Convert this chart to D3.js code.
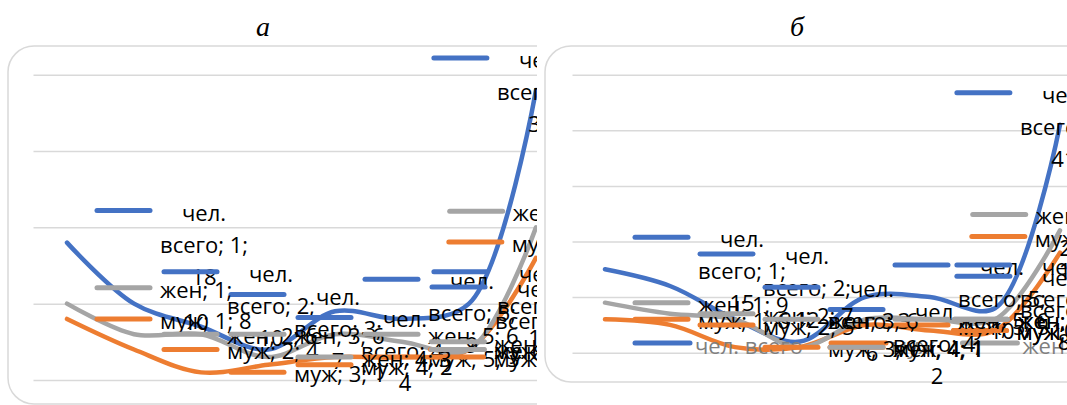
<!DOCTYPE html>
<html>
<head>
<meta charset="utf-8">
<script src="https://cdn.jsdelivr.net/npm/d3@7"></script>
<style>
  body { margin: 0; background: #fff; }
  svg { display: block; }
</style>
</head>
<body>
<div id="chart"></div>
<script>
// categories and series
var categories = ["1", "2", "3", "4", "5", "6", "7", "8"];
var seriesNames = ["чел. всего", "муж", "жен"];
var colors = ["#4472C4", "#ED7D31", "#A5A5A5"];

// panel а
var totalA = [18, 10, 7, 4, 9, 8, 10, 38];
var menA   = [8, 4, 1, 2, 3, 3, 4, 16];
var womenA = [10, 6, 6, 3, 6, 5, 4, 20];
var ticksA = [0, 10, 20, 30, 40];

// panel б
var totalB = [15, 12, 6, 2, 10, 10, 8, 41];
var menB   = [6, 5, 1, 1, 5, 4, 4, 18];
var womenB = [9, 7, 6, 1, 6, 6, 6, 22];
var ticksB = [0, 10, 20, 30, 40, 50];

var width = 1067, height = 405;
var labelFont = "'Open Sans', 'Noto Sans', sans-serif";
var labelSize = 22, lineH = 32, wrapW = 103;

var svg = d3.select("#chart")
    .append("svg")
    .attr("width", width)
    .attr("height", height);

// hidden text used to measure label widths
var meas = svg.append("text")
    .style("font-family", labelFont)
    .style("font-size", labelSize + "px")
    .attr("x", 10).attr("y", 10)
    .style("visibility", "hidden");
function measure(s) {
    meas.text(s);
    return meas.node().getComputedTextLength();
}

// titles
svg.append("text").attr("x", 263).attr("y", 36).text("а")
    .attr("text-anchor", "middle")
    .style("font-family", "'Liberation Serif', 'Times New Roman', serif")
    .style("font-style", "italic").style("font-size", "28px");
svg.append("text").attr("x", 797).attr("y", 36).text("б")
    .attr("text-anchor", "middle")
    .style("font-family", "'Liberation Serif', 'Times New Roman', serif")
    .style("font-style", "italic").style("font-size", "28px");

var panels = [
    {id: "a", series: [totalA, menA, womenA], ticks: ticksA,
     box: {x: 8, y: 46, h: 358}, clip: [0, 537],
     plot: {left: 33.5, right: 569.5, top: 74.7, bottom: 380}, chartRight: 585, legend: false},
    {id: "b", series: [totalB, menB, womenB], ticks: ticksB,
     box: {x: 545, y: 46, h: 336}, clip: [541, 1067],
     plot: {left: 572.5, right: 1092.5, top: 74.7, bottom: 352.7}, chartRight: 1108, legend: true}
];

panels.forEach(drawPanel);
meas.remove();

function drawPanel(p) {
    svg.append("clipPath").attr("id", "clip-" + p.id)
        .append("rect")
        .attr("x", p.clip[0]).attr("y", 0)
        .attr("width", p.clip[1] - p.clip[0]).attr("height", height);

    var g = svg.append("g").attr("clip-path", "url(#clip-" + p.id + ")");

    // chart area border
    g.append("rect")
        .attr("x", p.box.x).attr("y", p.box.y)
        .attr("width", 800).attr("height", p.box.h)
        .attr("rx", 26).attr("ry", 26)
        .style("fill", "#fff")
        .style("stroke", "#d9d9d9")
        .style("stroke-width", 1.5);

    var x = d3.scaleBand()
        .domain(categories)
        .range([p.plot.left, p.plot.right]);
    var y = d3.scaleLinear()
        .domain([0, d3.max(p.ticks)])
        .range([p.plot.bottom, p.plot.top]);
    var px = function(i) { return x(categories[i]) + x.bandwidth() / 2; };

    // gridlines
    var grid = g.append("g")
        .attr("transform", "translate(" + p.plot.left + ",0)")
        .call(d3.axisLeft(y)
            .tickValues(p.ticks)
            .tickSize(-(p.plot.right - p.plot.left))
            .tickFormat(""));
    grid.select(".domain").remove();
    grid.selectAll("line").style("stroke", "#d9d9d9").style("stroke-width", 1.5);

    // lines
    var line = d3.line()
        .x(function(d, i) { return px(i); })
        .y(function(d) { return y(d); })
        .curve(d3.curveCatmullRom.alpha(0.5));

    p.series.forEach(function(vals, s) {
        g.append("path")
            .datum(vals)
            .attr("d", line)
            .style("fill", "none")
            .style("stroke", colors[s])
            .style("stroke-width", 4.5)
            .style("stroke-linecap", "round");
    });

    // legend (only visible in panel б)
    if (p.legend) {
        var lx = 635, ly = 343;
        seriesNames.forEach(function(name, s) {
            g.append("line")
                .attr("x1", lx).attr("x2", lx + 55)
                .attr("y1", ly).attr("y2", ly)
                .style("stroke", colors[s]).style("stroke-width", 5)
                .style("stroke-linecap", "round");
            var t = g.append("text")
                .attr("x", lx + 60).attr("y", ly + 2)
                .attr("dominant-baseline", "central")
                .style("font-family", labelFont)
                .style("font-size", labelSize + "px")
                .style("fill", "#7f7f7f")
                .text(name);
            lx += 60 + t.node().getComputedTextLength() + 28;
        });
    }

    // data labels: key + "series; category; value", wrapped
    p.series.forEach(function(vals, s) {
        vals.forEach(function(v, i) {
            var txt = seriesNames[s] + "; " + categories[i] + "; " + v;
            var words = txt.split(" ");
            var lines = [], cur = "";
            words.forEach(function(w) {
                var t = cur ? cur + " " + w : w;
                if (cur && measure(t) > wrapW) { lines.push(cur); cur = w; }
                else cur = t;
            });
            lines.push(cur);
            var blockW = d3.max(lines, measure);
            var left = Math.min(px(i) + 30, p.chartRight - 63 - blockW);
            var cx = left + 63 + blockW / 2;
            var top = y(v) - (lines.length - 1) * lineH / 2;

            g.append("line")
                .attr("x1", left).attr("x2", left + 53)
                .attr("y1", top).attr("y2", top)
                .style("stroke", colors[s]).style("stroke-width", 5)
                .style("stroke-linecap", "round");

            lines.forEach(function(l, k) {
                g.append("text")
                    .attr("x", cx).attr("y", top + k * lineH + 1)
                    .attr("text-anchor", "middle")
                    .attr("dominant-baseline", "central")
                    .style("font-family", labelFont)
                    .style("font-size", labelSize + "px")
                    .style("fill", "#000")
                    .text(l);
            });
        });
    });
}
</script>
</body>
</html>
